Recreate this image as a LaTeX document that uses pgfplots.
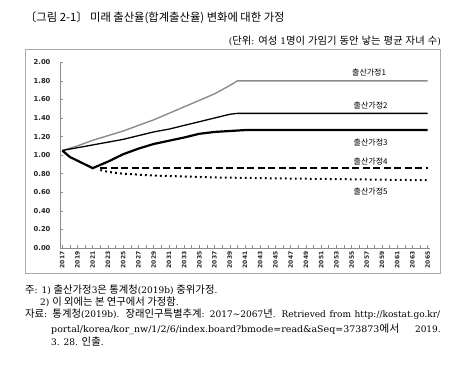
\documentclass[border=0pt]{standalone}
\usepackage{fontspec}
\setmainfont{DejaVu Serif}
\setsansfont{DejaVu Sans}
\newfontfamily\kr{Noto Sans CJK KR}
\newfontfamily\krn[Scale=1.15]{Noto Sans CJK KR}
\usepackage{pgfplots}
\pgfplotsset{compat=1.18}
\definecolor{sgray}{RGB}{140,140,140}
\definecolor{framegray}{RGB}{170,170,170}
\begin{document}
\begin{tikzpicture}[x=1pt,y=1pt]
\path[use as bounding box] (0,0) rectangle (456,377);
\fill[white] (0,0) rectangle (456,377);
\draw[framegray, line width=0.8pt] (25.5,104) rectangle (440.5,327.5);
% title
\node[anchor=west, inner sep=0, font=\kr\fontsize{11.3}{13}\selectfont] at (25,359) {〔그림 2-1〕 미래 출산율(합계출산율) 변화에 대한 가정};
\node[anchor=east, inner sep=0, font=\fontsize{9}{11}\selectfont] at (441,336.5) {\makebox[212pt][s]{({\krn 단위}: {\krn 여성} 1{\krn 명이} {\krn 가임기} {\krn 동안} {\krn 낳는} {\krn 평균} {\krn 자녀} {\krn 수})}};
% notes
\begin{scope}[every node/.style={anchor=west, inner sep=0, font=\fontsize{9}{11}\selectfont}]
\node at (25,87) {{\krn 주}: 1) {\krn 출산가정}3{\krn 은 통계청}(2019b) {\krn 중위가정}.};
\node at (40,75) {2) {\krn 이 외에는 본 연구에서 가정함}.};
\node at (25,62.5) {\makebox[415pt][s]{{\krn 자료}: {\krn 통계청}(2019b). {\krn 장래인구특별추계}: 2017\textasciitilde2067{\krn 년}. Retrieved from http://kostat.go.kr/}};
\node[xscale=1.05] at (51,47.5) {portal/korea/kor\_nw/1/2/6/index.board?bmode=read\&aSeq=373873{\krn 에서}};
\node[anchor=east] at (441,47.5) {2019.};
\node at (51,35) {3. 28. {\krn 인출}.};
\end{scope}
\begin{axis}[
  at={(60pt,129pt)}, anchor=south west, scale only axis,
  width=370pt, height=185.7pt,
  xmin=2016.7, xmax=2065.3, ymin=0, ymax=2,
  axis x line*=bottom, axis y line*=left,
  axis line style={sgray, line width=0.7pt},
  tick style={sgray, line width=0.5pt},
  tick align=inside, major tick length=2.5pt, minor tick length=2.5pt,
  xtick={2017,2019,...,2065}, minor xtick={2018,2020,...,2064},
  ytick={0,0.2,0.4,0.6,0.8,1.0,1.2,1.4,1.6,1.8,2.0},
  /pgf/number format/assume math mode=true,
  xticklabel style={rotate=90, anchor=east, font=\sffamily\bfseries\fontsize{6}{6}\selectfont, /pgf/number format/1000 sep={}, text=black!85},
  yticklabel style={font=\sffamily\bfseries\fontsize{6.8}{7}\selectfont, /pgf/number format/fixed, /pgf/number format/fixed zerofill, /pgf/number format/precision=2, xshift=-6pt, text=black!85},
  clip=false,
]
% 1
\addplot[sgray, line width=1.4pt] coordinates {(2017,1.05) (2019,1.10) (2021,1.16) (2023,1.21) (2025,1.26) (2027,1.32) (2029,1.38) (2031,1.45) (2033,1.52) (2035,1.59) (2037,1.66) (2039,1.75) (2040,1.80) (2065,1.80)};
% 2
\addplot[black, line width=1.3pt] coordinates {(2017,1.05) (2019,1.08) (2021,1.11) (2023,1.14) (2025,1.17) (2027,1.21) (2029,1.25) (2031,1.28) (2033,1.32) (2035,1.36) (2037,1.40) (2039,1.44) (2040,1.45) (2065,1.45)};
% 3
\addplot[black, line width=2.2pt] coordinates {(2017,1.05) (2018,0.98) (2019,0.94) (2021,0.86) (2023,0.93) (2025,1.01) (2027,1.07) (2029,1.12) (2031,1.155) (2033,1.19) (2035,1.23) (2037,1.25) (2039,1.26) (2041,1.27) (2065,1.27)};
% 4
\addplot[black, line width=2.2pt, dash pattern=on 7pt off 3.5pt] coordinates {(2022,0.86) (2065,0.86)};
% 5
\addplot[black, line width=2pt, dash pattern=on 1.8pt off 3.2pt] coordinates {(2022,0.84) (2023,0.82) (2025,0.80) (2027,0.79) (2029,0.78) (2033,0.77) (2037,0.76) (2045,0.75) (2055,0.74) (2065,0.73)};
\begin{scope}[every node/.style={font=\kr\fontsize{8}{9}\selectfont, inner sep=0}]
\node at (axis cs:2057.3,1.89) {출산가정1};
\node at (axis cs:2057.5,1.54) {출산가정2};
\node at (axis cs:2057.5,1.14) {출산가정3};
\node at (axis cs:2057.5,0.93) {출산가정4};
\node at (axis cs:2057.5,0.61) {출산가정5};
\end{scope}
\end{axis}
\end{tikzpicture}
\end{document}
